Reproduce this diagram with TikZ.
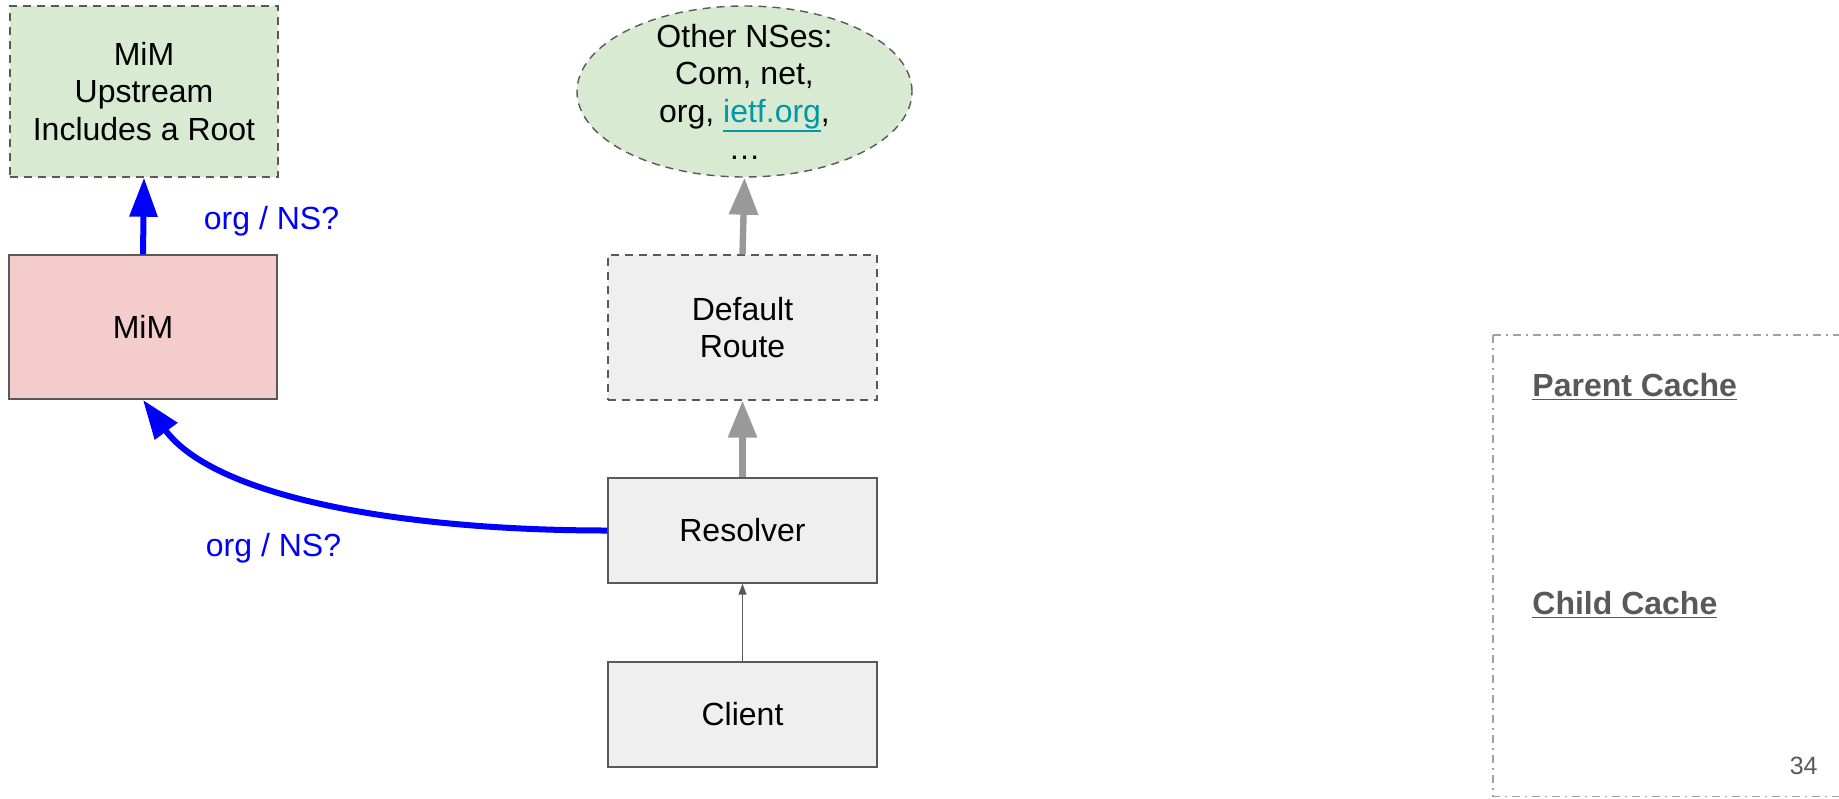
\documentclass[tikz,border=0pt]{standalone}
\usepackage{fontspec}
\setmainfont{Liberation Sans}
\usetikzlibrary{arrows.meta,shapes.geometric}
\definecolor{boxgreen}{HTML}{D9EAD3}
\definecolor{boxpink}{HTML}{F4CCCC}
\definecolor{boxgray}{HTML}{EFEFEF}
\definecolor{edgegray}{HTML}{595959}
\definecolor{arrowgray}{HTML}{999999}
\definecolor{linkteal}{HTML}{0097A7}
\definecolor{cachegray}{HTML}{A0A0A0}
\definecolor{pagegray}{HTML}{595959}
\newcommand{\linkul}[1]{\leavevmode\vtop{\hbox{#1}\kern0.6pt\hrule height 1pt}}
\begin{document}
\begin{tikzpicture}[x=0.5pt,y=-0.5pt,
  every node/.style={font=\fontsize{16}{18.75}\selectfont, text=black, align=center, inner sep=0pt},
  box/.style={rectangle, draw=edgegray, line width=0.7pt},
  dashbox/.style={box, dash pattern=on 4pt off 3pt},
  bluearrow/.style={draw=blue, line width=3pt, -{Triangle[width=13.5pt,length=19.5pt]}},
  grayarrow/.style={draw=arrowgray, line width=3.2pt, -{Triangle[width=14pt,length=18.5pt]}},
  thinarrow/.style={draw=edgegray, line width=0.6pt, -{Triangle[width=4pt,length=5.5pt]}},
  bluelabel/.style={text=blue},
  cachelabel/.style={font=\fontsize{16}{18.75}\selectfont\bfseries, text=pagegray}
]
\useasboundingbox (0,0) rectangle (1839,798);

% nodes
\node[dashbox, fill=boxgreen, minimum width=134pt, minimum height=85.5pt] (up) at (144,91.5) {MiM\\Upstream\\Includes a Root};
\node[box, fill=boxpink, minimum width=134pt, minimum height=72pt] (mim) at (143,327) {MiM};
\node[ellipse, draw=edgegray, line width=0.7pt, dash pattern=on 4pt off 3pt, fill=boxgreen, minimum width=167.5pt, minimum height=85.5pt] (ns) at (744.5,91.5) {};
\node (nstext) at (744.5,92) {Other NSes:\\Com, net,\\org, {\color{linkteal}\linkul{ietf.org}},\\\ldots};
\node[dashbox, fill=boxgray, minimum width=134.5pt, minimum height=72.5pt] (dr) at (742.5,327.5) {Default\\Route};
\node[box, fill=boxgray, minimum width=134.5pt, minimum height=52.5pt] (res) at (742.5,530.5) {Resolver};
\node[box, fill=boxgray, minimum width=134.5pt, minimum height=52.5pt] (cli) at (742.5,714.5) {Client};

% labels
\node[bluelabel, anchor=base] (lab1) at (271.5,229) {org / NS?};
\node[bluelabel, anchor=base] (lab2) at (273.5,556) {org / NS?};

% connectors
\draw[bluearrow] (mim.north) -- (up.south);
\draw[grayarrow] (dr.north) -- (ns.south);
\draw[grayarrow] (res.north) -- (dr.south);
\draw[thinarrow] (cli.north) -- (res.south);
\coordinate (mimtip) at (143,400);
\draw[bluearrow] (res.west) .. controls (400,530.5) and (215,497) .. (mimtip);

% cache panel
\draw[cachegray, line width=0.6pt, dash pattern=on 4pt off 2.5pt on 1pt off 2.5pt] (1493,335) -- (1850,335);
\draw[cachegray, line width=0.6pt, dash pattern=on 4pt off 2.5pt on 1pt off 2.5pt] (1493,335) -- (1493,796.5) -- (1850,796.5);
\node[cachelabel, anchor=base west] (parent) at (1532,396) {\underline{Parent Cache}};
\node[cachelabel, anchor=base west] (child) at (1532,614) {\underline{Child Cache}};
\node[anchor=base east, font=\fontsize{12.5}{14}\selectfont, text=pagegray] (page) at (1818,774) {34};
\end{tikzpicture}
\end{document}
